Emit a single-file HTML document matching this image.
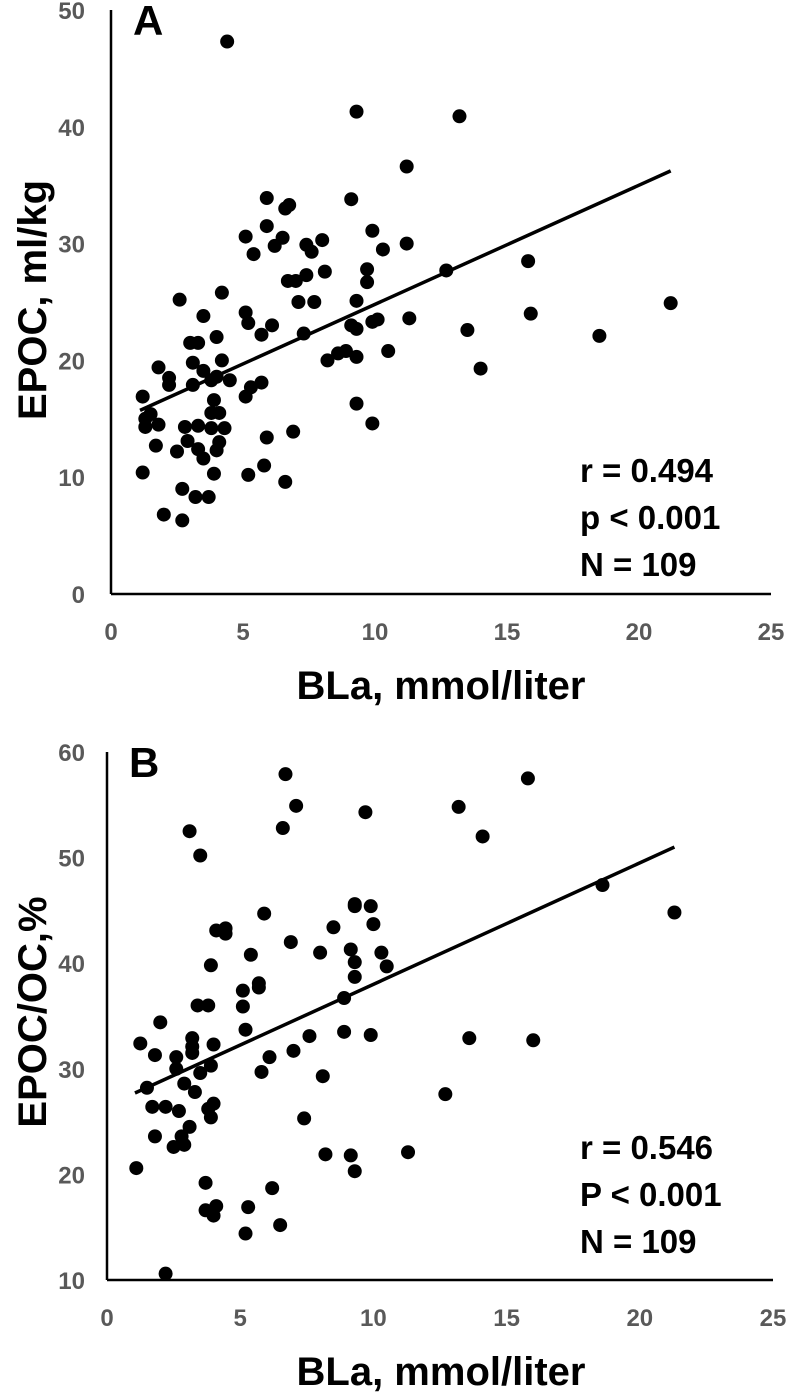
<!DOCTYPE html>
<html><head><meta charset="utf-8">
<style>
html,body{margin:0;padding:0;background:#fff;}
svg{display:block;font-family:"Liberation Sans",sans-serif;}
.tick{fill:#595959;font-weight:bold;font-size:24px;}
.title{fill:#000;font-weight:bold;font-size:40px;}
.stat{fill:#000;font-weight:bold;font-size:33px;}
.letter{fill:#000;font-weight:bold;font-size:42px;}
</style></head>
<body>
<svg id="chart" width="787" height="1399" viewBox="0 0 787 1399"></svg>
<script>
// Panel A data: BLa (mmol/liter) vs EPOC (ml/kg)
const blaA = [4.4,9.3,13.2,11.2,5.9,6.6,6.75,9.1,5.9,5.1,6.5,6.2,7.4,7.6,8.0,9.9,10.3,11.2,5.4,6.7,7.0,7.4,8.1,9.7,9.7,7.1,7.7,9.3,2.6,4.2,3.5,5.1,5.2,6.1,5.7,7.3,9.1,9.3,9.9,10.1,11.3,4.0,3.0,3.3,3.1,4.2,1.8,3.5,2.2,2.2,3.1,3.8,4.0,4.5,8.2,8.6,8.9,9.3,10.5,5.7,5.3,5.1,1.2,1.5,1.3,1.3,1.8,3.9,3.8,4.1,2.8,3.3,3.8,4.3,2.9,3.3,3.5,4.1,4.0,1.7,2.5,5.9,6.9,9.3,9.9,1.2,3.9,5.2,5.8,6.6,2.7,3.2,3.7,2.0,2.7,12.7,15.8,15.9,13.5,14.0,18.5,21.2];
const epocA = [47.3,41.3,40.9,36.6,33.9,33.0,33.3,33.8,31.5,30.6,30.5,29.8,29.9,29.3,30.3,31.1,29.5,30.0,29.1,26.8,26.8,27.3,27.6,27.8,26.7,25.0,25.0,25.1,25.2,25.8,23.8,24.1,23.2,23.0,22.2,22.3,23.0,22.7,23.3,23.5,23.6,22.0,21.5,21.5,19.8,20.0,19.4,19.1,18.5,17.9,17.9,18.3,18.6,18.3,20.0,20.6,20.8,20.3,20.8,18.1,17.7,16.9,16.9,15.4,15.0,14.3,14.5,16.6,15.5,15.5,14.3,14.4,14.2,14.2,13.1,12.4,11.6,13.0,12.3,12.7,12.2,13.4,13.9,16.3,14.6,10.4,10.3,10.2,11.0,9.6,9.0,8.3,8.3,6.8,6.3,27.7,28.5,24.0,22.6,19.3,22.1,24.9];
const fitA = [1.1, 21.2];
const fitAcoef = [14.6, 1.02];

// Panel B data: BLa vs EPOC/OC %
const blaB = [6.7,7.1,6.6,9.7,3.1,3.5,5.9,9.3,9.3,9.9,10.0,8.5,4.1,4.45,4.45,6.9,5.4,8.0,9.15,10.3,9.3,10.5,9.3,3.9,5.7,5.7,5.1,5.1,3.4,3.8,8.9,2.0,5.2,8.9,9.9,7.6,1.25,3.2,3.2,3.2,4.0,1.8,2.6,7.0,6.1,2.6,3.5,3.9,5.8,8.1,1.5,2.9,3.3,1.7,2.2,2.7,4.0,3.8,3.9,7.4,3.1,1.8,2.8,2.5,2.9,1.1,8.2,9.15,9.3,11.3,3.7,6.2,3.7,4.1,4.0,5.3,6.5,5.2,2.2,15.8,13.2,14.1,18.6,21.3,13.6,16.0,12.7];
const pctB = [57.9,54.9,52.8,54.3,52.5,50.2,44.7,45.6,45.4,45.4,43.7,43.4,43.1,43.3,42.8,42.0,40.8,41.0,41.3,41.0,40.1,39.7,38.7,39.8,38.1,37.7,37.4,35.9,36.0,36.0,36.7,34.4,33.7,33.5,33.2,33.1,32.4,32.9,32.1,31.5,32.3,31.3,31.1,31.7,31.1,30.0,29.6,30.3,29.7,29.3,28.2,28.6,27.8,26.4,26.4,26.0,26.7,26.2,25.4,25.3,24.5,23.6,23.6,22.6,22.8,20.6,21.9,21.8,20.3,22.1,19.2,18.7,16.6,17.0,16.1,16.9,15.2,14.4,10.6,57.5,54.8,52.0,47.4,44.8,32.9,32.7,27.6];
const fitB = [1.05, 21.3];
const fitBcoef = [26.5, 1.15];

const xTicks = [0,5,10,15,20,25];
const yTicksA = [0,10,20,30,40,50];
const yTicksB = [10,20,30,40,50,60];

const NS = "http://www.w3.org/2000/svg";
const svg = document.getElementById('chart');
function mk(tag, attrs, parent){
  const e = document.createElementNS(NS, tag);
  for (const k in attrs) e.setAttribute(k, attrs[k]);
  (parent||svg).appendChild(e);
  return e;
}

function panel(cfg){
  const g = mk('g', {});
  
  
  const sx = v => cfg.x0 + v * (cfg.x1 - cfg.x0) / 25;
  const sy = v => cfg.yb - (v - cfg.ymin) * (cfg.yb - cfg.yt) / (cfg.ymax - cfg.ymin);
  const ax = mk('line', {x1:cfg.x0, y1:cfg.yb, x2:cfg.x1, y2:cfg.yb, stroke:'#000','stroke-width':2.5}, g);
  
  
  const ay = mk('line', {x1:cfg.x0, y1:cfg.yt, x2:cfg.x0, y2:cfg.yb, stroke:'#000','stroke-width':2.5}, g);
  
  
  xTicks.forEach(v => {
    const t = mk('text', {x:sx(v), y:cfg.yb+46, 'text-anchor':'middle', class:'tick'}, g);
    t.textContent = v;
    
    
  });
  cfg.yTicks.forEach(v => {
    const t = mk('text', {x:85, y:sy(v)+9, 'text-anchor':'end', class:'tick'}, g);
    t.textContent = v;
    
    
  });
  cfg.xs.forEach((v,i) => {
    const c = mk('circle', {cx:sx(v), cy:sy(cfg.ys[i]), r:7, fill:'#000'}, g);
    
    
  });
  const [a,b] = cfg.coef;
  const l = mk('line', {x1:sx(cfg.fit[0]), y1:sy(a+b*cfg.fit[0]), x2:sx(cfg.fit[1]), y2:sy(a+b*cfg.fit[1]), stroke:'#000','stroke-width':3.5}, g);
  
  
  const L = mk('text', {x:cfg.x0+22, y:cfg.yt+25, class:'letter'}, g);
  L.textContent = cfg.letter;
  
  
  const xt = mk('text', {x:441, y:cfg.yb+105, 'text-anchor':'middle', class:'title'}, g);
  xt.textContent = 'BLa, mmol/liter';
  
  
  const yt = mk('text', {x:0, y:0, 'text-anchor':'middle', class:'title', transform:`translate(46,${cfg.ytitle}) rotate(-90)`}, g);
  yt.textContent = cfg.ylabel;
  
  
  cfg.stats.forEach((s,i) => {
    const t = mk('text', {x:580, y:cfg.statY + i*47, class:'stat'}, g);
    t.textContent = s;
    
    
  });
}

panel({name:'panel-a', x0:111, x1:771, yt:10, yb:594, ymin:0, ymax:50, yTicks:yTicksA,
  xs:blaA, ys:epocA, fit:fitA, coef:fitAcoef, letter:'A', ylabel:'EPOC, ml/kg', ytitle:300,
  stats:['r = 0.494','p < 0.001','N = 109'], statY:482});
panel({name:'panel-b', x0:107, x1:773, yt:752, yb:1280, ymin:10, ymax:60, yTicks:yTicksB,
  xs:blaB, ys:pctB, fit:fitB, coef:fitBcoef, letter:'B', ylabel:'EPOC/OC,%', ytitle:1012,
  stats:['r = 0.546','P < 0.001','N = 109'], statY:1159});
</script>
</body></html>
